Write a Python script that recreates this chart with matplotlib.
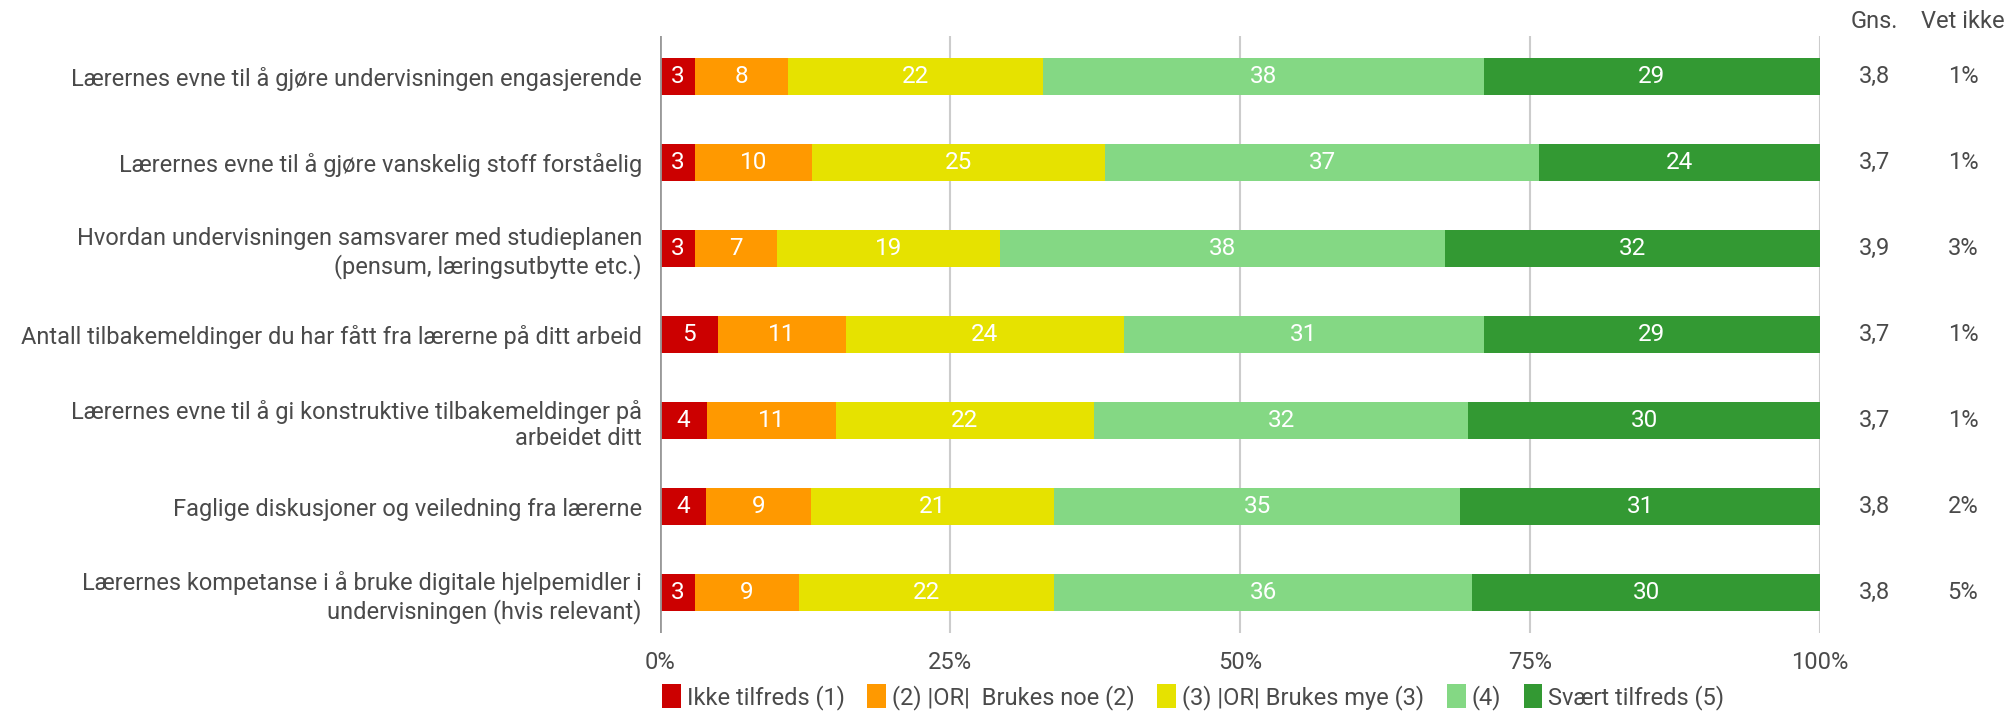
import numpy as np
import matplotlib.pyplot as plt
from matplotlib.patches import Patch
from matplotlib.transforms import blended_transform_factory

plt.rcParams['font.family'] = ['Roboto', 'DejaVu Sans']

# survey data (percent per answer category)
questions = [
    "Lærernes evne til å gjøre undervisningen engasjerende",
    "Lærernes evne til å gjøre vanskelig stoff forståelig",
    "Hvordan undervisningen samsvarer med studieplanen\n(pensum, læringsutbytte etc.)",
    "Antall tilbakemeldinger du har fått fra lærerne på ditt arbeid",
    "Lærernes evne til å gi konstruktive tilbakemeldinger på\narbeidet ditt",
    "Faglige diskusjoner og veiledning fra lærerne",
    "Lærernes kompetanse i å bruke digitale hjelpemidler i\nundervisningen (hvis relevant)",
]
ikke_tilfreds = [3, 3, 3, 5, 4, 4, 3]
brukes_noe    = [8, 10, 7, 11, 11, 9, 9]
brukes_mye    = [22, 25, 19, 24, 22, 21, 22]
fire          = [38, 37, 38, 31, 32, 35, 36]
svaert        = [29, 24, 32, 29, 30, 31, 30]
gns      = ["3,8", "3,7", "3,9", "3,7", "3,7", "3,8", "3,8"]
vet_ikke = ["1%", "1%", "3%", "1%", "1%", "2%", "5%"]

series = [ikke_tilfreds, brukes_noe, brukes_mye, fire, svaert]
names = ["Ikke tilfreds (1)", "(2) |OR|  Brukes noe (2)", "(3) |OR| Brukes mye (3)",
         "(4)", "Svært tilfreds (5)"]
colors = ["#cc0000", "#ff9900", "#e6e200", "#84d884", "#339933"]

vals = np.array(series, dtype=float)
shares = vals / vals.sum(axis=0) * 100

FS = 17
TXT = '#4a4a4a'
W, H = 2006, 712
fig = plt.figure(figsize=(W / 100, H / 100), dpi=100)
ax = fig.add_axes([660 / W, 1 - 633 / H, 1160 / W, 597 / H])

y = np.arange(len(questions))
left = np.zeros(len(questions))
for vs, sh, c in zip(series, shares, colors):
    ax.barh(y, sh, left=left, height=0.44, color=c, zorder=3)
    for yi, l, s, v in zip(y, left, sh, vs):
        ax.text(l + s / 2, yi, str(v), ha='center', va='center',
                color='white', fontsize=FS + 0.5, zorder=4)
    left += sh

ax.set_xlim(0, 100)
ax.set_ylim(len(questions) - 0.53, -0.47)
ax.set_xticks([0, 25, 50, 75, 100])
ax.set_xticklabels(["0%", "25%", "50%", "75%", "100%"], fontsize=FS, color=TXT)
ax.set_yticks(y)
ax.set_yticklabels(questions, fontsize=FS, color=TXT)
ax.tick_params(axis='both', length=0)
ax.tick_params(axis='y', pad=13)
ax.tick_params(axis='x', pad=13)
ax.grid(axis='x', color='#cccccc', lw=1.5, zorder=0)
for s in ax.spines.values():
    s.set_visible(False)
ax.axvline(0, color='#999999', lw=2, zorder=5)

# side columns: mean and "don't know"
side = blended_transform_factory(fig.transFigure, ax.transData)
fig.text(1874 / W, 1 - 22 / H, "Gns.", ha='center', va='center', fontsize=FS, color=TXT)
fig.text(1963 / W, 1 - 22 / H, "Vet ikke", ha='center', va='center', fontsize=FS, color=TXT)
for yi, g, v in zip(y, gns, vet_ikke):
    ax.text(1874 / W, yi, g, ha='center', va='center', fontsize=FS, color=TXT, transform=side)
    ax.text(1963 / W, yi, v, ha='center', va='center', fontsize=FS, color=TXT, transform=side)

handles = [Patch(facecolor=c, label=n) for c, n in zip(colors, names)]
fig.legend(handles=handles, loc='center left', bbox_to_anchor=(641 / W, 1 - 697 / H),
           ncol=5, frameon=False, fontsize=FS, handlelength=0.8, handleheight=1.2,
           handletextpad=0.25, columnspacing=0.95, labelcolor=TXT)

fig.savefig("out.png", dpi=100)
